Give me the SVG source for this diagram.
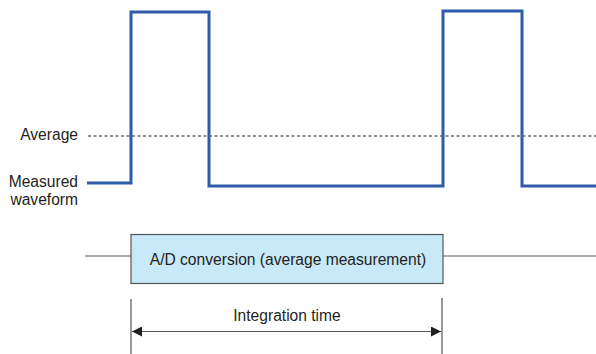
<svg xmlns="http://www.w3.org/2000/svg" width="596" height="354" viewBox="0 0 596 354">
<style>
text{font-family:"Liberation Sans",Arial,sans-serif;font-size:15.6px;fill:#231f20}
.wave{fill:none;stroke:#2f5ca8;stroke-width:3}
.thin{stroke:#555;stroke-width:1.2;fill:none}
</style>
<defs>
<marker id="ah" viewBox="0 0 10 10" refX="10" refY="5" markerWidth="10" markerHeight="10" markerUnits="userSpaceOnUse" orient="auto-start-reverse">
<path d="M0,0 L10,5 L0,10 z" fill="#231f20"/>
</marker>
</defs>
<g id="labels">
<text x="78" y="140" text-anchor="end">Average</text>
<text x="78" y="187" text-anchor="end">Measured</text>
<text x="78" y="205" text-anchor="end">waveform</text>
</g>
<g id="average-line">
<line x1="88" y1="136" x2="596" y2="136" stroke="#231f20" stroke-width="1" stroke-dasharray="3,2.5"/>
</g>
<g id="waveform">
<path class="wave" d="M87,183 H131 V12 H209 V186 H443 V11 H522 V186 H596"/>
</g>
<g id="connectors">
<line class="thin" x1="85" y1="256" x2="131" y2="256"/>
<line class="thin" x1="443" y1="256" x2="596" y2="256"/>
<line class="thin" x1="131" y1="299" x2="131" y2="354"/>
<line class="thin" x1="442" y1="298" x2="442" y2="354"/>
<line class="thin" x1="132" y1="331.5" x2="441" y2="331.5" marker-start="url(#ah)" marker-end="url(#ah)"/>
</g>
<g id="adc">
<rect x="131" y="234.5" width="312" height="49" fill="#c7e9f8" stroke="#555" stroke-width="1.2"/>
<text x="288" y="265" text-anchor="middle">A/D conversion (average measurement)</text>
</g>
<g id="integration-label">
<text x="287" y="321" text-anchor="middle">Integration time</text>
</g>
</svg>
